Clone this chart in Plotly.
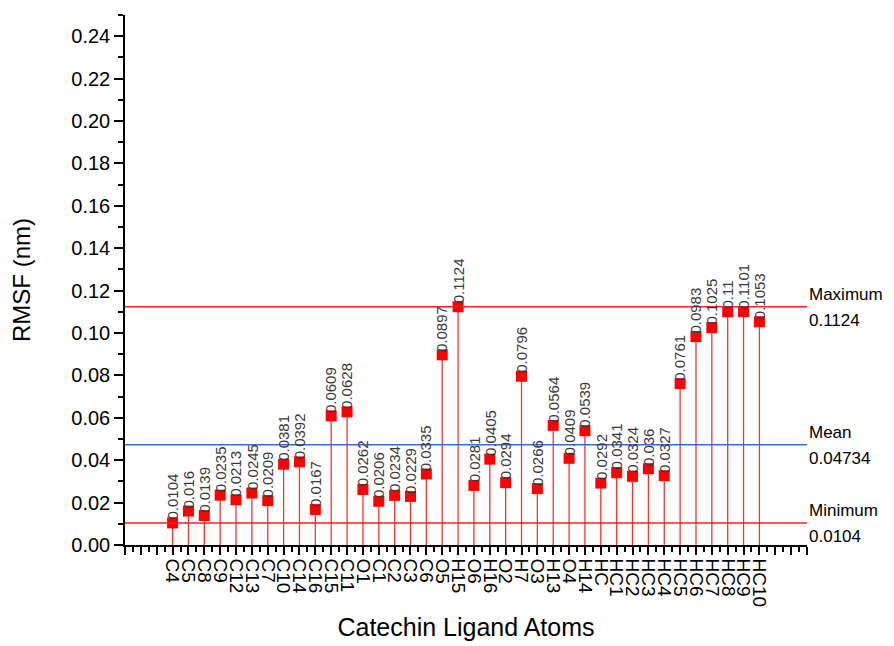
import plotly.graph_objects as go

# RMSF per catechin ligand atom
atoms = ["C4", "C5", "C8", "C9", "C12", "C13", "C7", "C10", "C14", "C16",
         "C15", "C11", "O1", "C1", "C2", "C3", "C6", "O5", "H15", "O6",
         "H16", "O2", "H7", "O3", "H13", "O4", "H14", "HC", "HC1", "HC2",
         "HC3", "HC4", "HC5", "HC6", "HC7", "HC8", "HC9", "HC10"]
rmsf = [0.0104, 0.016, 0.0139, 0.0235, 0.0213, 0.0245, 0.0209, 0.0381, 0.0392, 0.0167,
        0.0609, 0.0628, 0.0262, 0.0206, 0.0234, 0.0229, 0.0335, 0.0897, 0.1124, 0.0281,
        0.0405, 0.0294, 0.0796, 0.0266, 0.0564, 0.0409, 0.0539, 0.0292, 0.0341, 0.0324,
        0.036, 0.0327, 0.0761, 0.0983, 0.1025, 0.11, 0.1101, 0.1053]
label_text = ["0.0104", "0.016", "0.0139", "0.0235", "0.0213", "0.0245", "0.0209", "0.0381", "0.0392", "0.0167",
              "0.0609", "0.0628", "0.0262", "0.0206", "0.0234", "0.0229", "0.0335", "0.0897", "0.1124", "0.0281",
              "0.0405", "0.0294", "0.0796", "0.0266", "0.0564", "0.0409", "0.0539", "0.0292", "0.0341", "0.0324",
              "0.036", "0.0327", "0.0761", "0.0983", "0.1025", "0.11", "0.1101", "0.1053"]

# Reference levels
ref_names = ["Maximum", "Mean", "Minimum"]
ref_values = [0.1124, 0.04734, 0.0104]
ref_labels = ["0.1124", "0.04734", "0.0104"]
ref_colors = ["#ff2020", "#2f6fd6", "#ff2020"]

x_pad_left, x_pad_right = 3, 3
font = "Liberation Sans, Arial, sans-serif"

idx = list(range(len(atoms)))

# Stems drawn from zero up to each value
stem_x, stem_y = [], []
for i, v in zip(idx, rmsf):
    stem_x += [i, i, None]
    stem_y += [0, v, None]

fig = go.Figure()
fig.add_trace(go.Scatter(x=stem_x, y=stem_y, mode="lines",
                         line=dict(color="#ff3030", width=1.3),
                         hoverinfo="skip", showlegend=False))

x_lo = -x_pad_left
x_hi = len(atoms) - 1 + x_pad_right
for val, col in zip(ref_values, ref_colors):
    fig.add_shape(type="line", xref="x", yref="y", x0=x_lo, x1=x_hi,
                  y0=val, y1=val, line=dict(color=col, width=1.5))

fig.add_trace(go.Scatter(x=idx, y=rmsf, mode="markers",
                         marker=dict(symbol="square", size=11, color="#ff0000",
                                     line=dict(width=0)),
                         showlegend=False))

annotations = []
for i, v, t in zip(idx, rmsf, label_text):
    annotations.append(dict(x=i, y=v, xref="x", yref="y", text=t, textangle=-90,
                            showarrow=False, xanchor="center", yanchor="bottom",
                            yshift=1, font=dict(family=font, size=15, color="#3a3a3a")))

for name, val, lab in zip(ref_names, ref_values, ref_labels):
    annotations.append(dict(x=1.0, y=val, xref="paper", yref="y", text=name,
                            showarrow=False, xanchor="left", yanchor="bottom",
                            xshift=0, yshift=1, font=dict(family=font, size=17, color="#000")))
    annotations.append(dict(x=1.0, y=val, xref="paper", yref="y", text=lab,
                            showarrow=False, xanchor="left", yanchor="top",
                            xshift=0, yshift=-2, font=dict(family=font, size=17, color="#000")))

tick_positions = list(range(x_lo, x_hi + 1))
tick_labels = [atoms[p] if 0 <= p < len(atoms) else "" for p in tick_positions]

fig.update_layout(
    width=894, height=646,
    margin=dict(l=125, r=87, t=15, b=101),
    paper_bgcolor="white", plot_bgcolor="white",
    font=dict(family=font, color="#000"),
    annotations=annotations,
    xaxis=dict(
        range=[x_lo, x_hi], tickmode="array", tickvals=tick_positions, ticktext=tick_labels,
        tickangle=90, tickfont=dict(size=19, family=font), ticks="outside", ticklen=8,
        tickwidth=1.5, tickcolor="#000", showline=True, linecolor="#000", linewidth=1.5,
        showgrid=False, zeroline=False, automargin=False,
        minor=dict(tickmode="linear", tick0=0.5, dtick=1, ticks="outside", ticklen=5,
                   tickwidth=1.5, tickcolor="#000", showgrid=False),
        title=dict(text="Catechin Ligand Atoms", font=dict(size=25, family=font), standoff=12),
    ),
    yaxis=dict(
        range=[0, 0.25], tickmode="linear", tick0=0, dtick=0.02, tickformat=".2f",
        tickfont=dict(size=20, family=font), ticks="outside", ticklen=9, tickwidth=1.5,
        tickcolor="#000", showline=True, linecolor="#000", linewidth=1.5,
        showgrid=False, zeroline=False, automargin=False,
        minor=dict(tickmode="linear", tick0=0.01, dtick=0.02, ticks="outside", ticklen=5,
                   tickwidth=1.5, tickcolor="#000", showgrid=False),
        title=dict(text="RMSF (nm)", font=dict(size=24, family=font), standoff=34),
    ),
)

fig.write_html("out.html")
